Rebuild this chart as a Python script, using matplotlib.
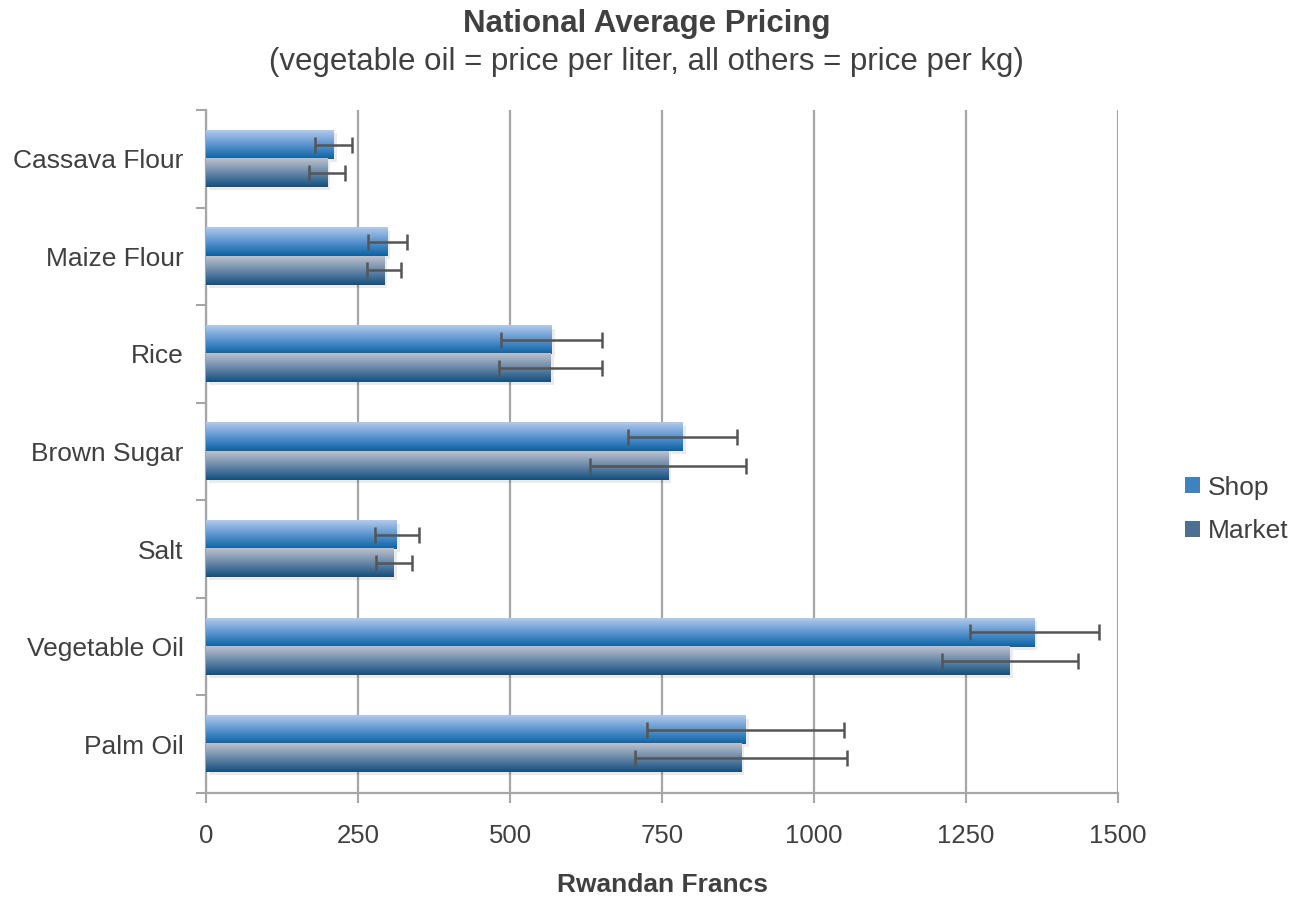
import matplotlib
matplotlib.use("Agg")
import matplotlib.pyplot as plt
import matplotlib.transforms as mtransforms
from matplotlib.colors import LinearSegmentedColormap
from matplotlib.patches import Rectangle
import numpy as np

plt.rcParams["font.family"] = ["Liberation Sans", "DejaVu Sans"]

categories = ["Cassava Flour", "Maize Flour", "Rice", "Brown Sugar", "Salt", "Vegetable Oil", "Palm Oil"]
shop = [210, 298, 569, 784, 314, 1362, 888]
shop_err = [30, 32, 83, 90, 36, 106, 162]
market = [199, 293, 567, 760, 309, 1322, 880]
market_err = [30, 28, 85, 128, 30, 112, 174]
xticks = [0, 250, 500, 750, 1000, 1250, 1500]

text_col = "#404040"
grid_col = "#a6a6a6"

shop_cmap = LinearSegmentedColormap.from_list("shop", ["#b3c9ea", "#5b95cf", "#0a62a3"])
market_cmap = LinearSegmentedColormap.from_list("market", ["#bcc2cc", "#6a88a8", "#124f7f"])

fig = plt.figure(figsize=(12.93, 9), dpi=100)
ax = fig.add_axes([0.1593, 0.1189, 0.7054, 0.7589])

y = np.arange(len(categories))
h = 0.29
bars_shop = ax.barh(y - h / 2, shop, height=h, color="none", zorder=3)
bars_mkt = ax.barh(y + h / 2, market, height=h, color="none", zorder=3)

grad = np.linspace(0, 1, 100).reshape(-1, 1)
shadow_tf = ax.transData + mtransforms.ScaledTranslation(3 / 100, -3 / 100, fig.dpi_scale_trans)
for bars, cmap in [(bars_shop, shop_cmap), (bars_mkt, market_cmap)]:
    for b in bars:
        x0, y0, w, hh = b.get_x(), b.get_y(), b.get_width(), b.get_height()
        ax.add_patch(Rectangle((x0, y0), w, hh, facecolor="#000000", alpha=0.08,
                               edgecolor="none", transform=shadow_tf, zorder=2))
        # inverted y axis: top of bar is y0
        ax.imshow(grad, cmap=cmap, aspect="auto", extent=(x0, x0 + w, y0 + hh, y0),
                  zorder=3, interpolation="bilinear")

ax.errorbar(shop, y - h / 2, xerr=shop_err, fmt="none", ecolor="#555555",
            elinewidth=1.8, capsize=6, capthick=1.8, zorder=5)
ax.errorbar(market, y + h / 2, xerr=market_err, fmt="none", ecolor="#555555",
            elinewidth=1.8, capsize=6, capthick=1.8, zorder=5)

ax.set_xlim(0, 1500)
ax.set_ylim(len(categories) - 0.5, -0.5)
ax.set_xticks(xticks)
ax.set_yticks(y)
ax.set_yticklabels(categories)
ax.set_yticks(np.arange(len(categories) + 1) - 0.5, minor=True)
ax.tick_params(axis="y", which="major", length=0, pad=16, labelsize=19, labelcolor=text_col)
ax.tick_params(axis="y", which="minor", length=7, width=1.5, color=grid_col, direction="out")
ax.tick_params(axis="x", length=7, width=1.5, color=grid_col, direction="out", pad=15,
               labelsize=18.5, labelcolor=text_col)
ax.grid(axis="x", color=grid_col, linewidth=1.6, zorder=0)
ax.set_axisbelow(True)
for s in ["top", "right"]:
    ax.spines[s].set_visible(False)
for s in ["left", "bottom"]:
    ax.spines[s].set_color(grid_col)
    ax.spines[s].set_linewidth(1.6)

ax.set_xlabel("Rwandan Francs", fontsize=19, fontweight="bold", color=text_col, labelpad=18)

fig.text(0.5, 0.973, "National Average Pricing", ha="center", va="center",
         fontsize=22.5, fontweight="bold", color=text_col)
fig.text(0.5, 0.931, "(vegetable oil = price per liter, all others = price per kg)",
         ha="center", va="center", fontsize=22.5, color=text_col)

handles = [Rectangle((0, 0), 1, 1, facecolor="#3f82c2"),
           Rectangle((0, 0), 1, 1, facecolor="#4c6f93")]
fig.legend(handles, ["Shop", "Market"], loc="center left", bbox_to_anchor=(0.9165, 0.434),
           frameon=False, fontsize=19, handlelength=0.55, handleheight=0.55,
           handletextpad=0.3, labelspacing=0.75, labelcolor=text_col,
           borderpad=0, borderaxespad=0)

fig.savefig("out.png", dpi=100)
